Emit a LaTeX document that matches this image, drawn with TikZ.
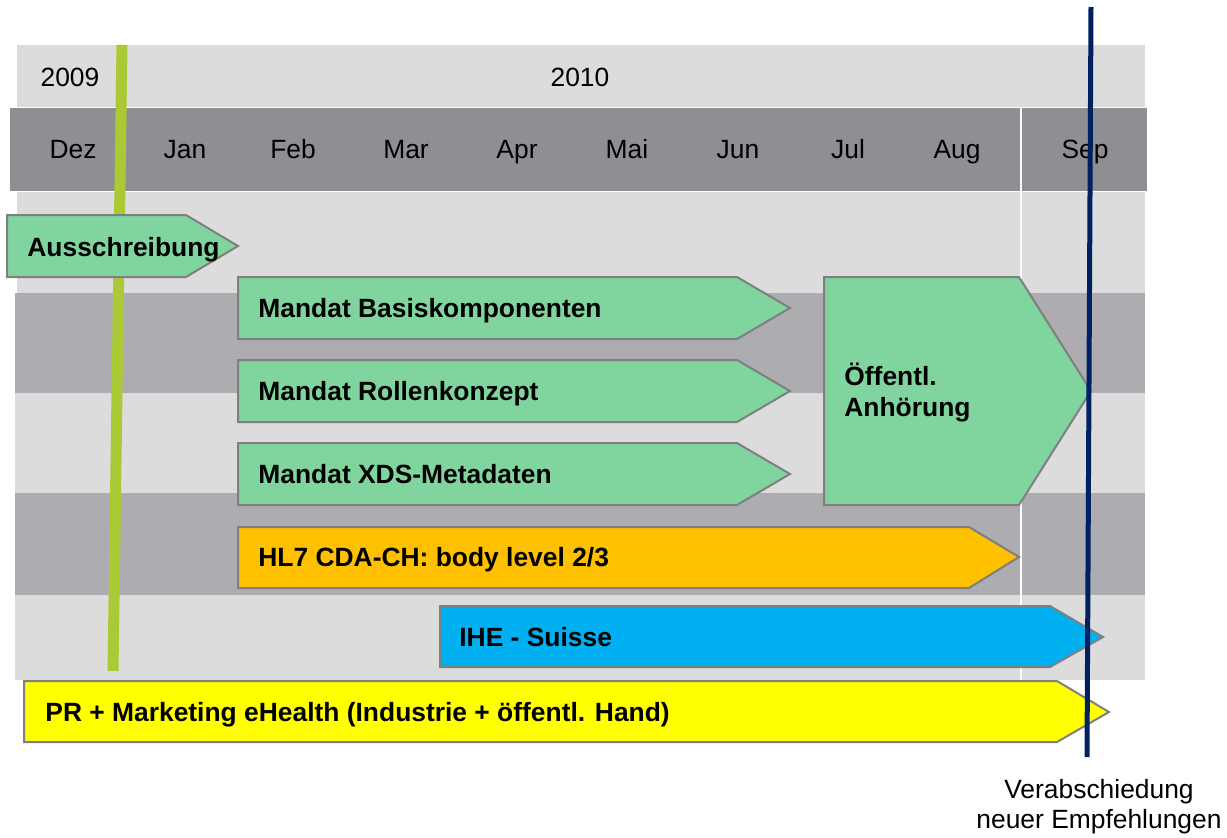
\documentclass[tikz,border=0pt]{standalone}
\usepackage{fontspec}
\setmainfont{Liberation Sans}
\definecolor{lightband}{HTML}{DCDCDC}
\definecolor{monthband}{HTML}{8F8E93}
\definecolor{darkband}{HTML}{ADADB1}
\definecolor{greenfill}{HTML}{80D59E}
\definecolor{arrgray}{HTML}{7F7F7F}
\definecolor{hlorange}{HTML}{FFC000}
\definecolor{iheblue}{HTML}{00B0F0}
\definecolor{pryellow}{HTML}{FFFF00}
\definecolor{greenline}{HTML}{A9C935}
\definecolor{navyline}{HTML}{002060}
\begin{document}
\begin{tikzpicture}[x=0.5pt,y=-0.5pt,
  lab/.style={font=\fontsize{13.2}{15}\selectfont, inner sep=0, anchor=base},
  blab/.style={font=\fontsize{13.2}{15}\selectfont\bfseries, inner sep=0, anchor=base west},
  arrbox/.style={draw=arrgray, line width=1pt, line join=miter},
]
\useasboundingbox (0,0) rectangle (1227,837);
% background bands
\fill[lightband] (17,45) rectangle (1145,107);
\fill[monthband] (10,108) rectangle (1147,191);
\fill[lightband] (17,192) rectangle (1145,293);
\fill[darkband] (15,293) rectangle (1145,393);
\fill[lightband] (15,393) rectangle (1145,493);
\fill[darkband] (15,493) rectangle (1145,595);
\fill[lightband] (15,595) rectangle (1145,680);
\draw[white, line width=1pt] (1021,108) -- (1021,680);
% year and month labels
\node[lab] (y2009) at (70,86) {2009};
\node[lab] (y2010) at (580,86) {2010};
\node[lab] (mDez) at (73,158) {Dez};
\node[lab] (mJan) at (185,158) {Jan};
\node[lab] (mFeb) at (293,158) {Feb};
\node[lab] (mMar) at (406,158) {Mar};
\node[lab] (mApr) at (517,158) {Apr};
\node[lab] (mMai) at (627,158) {Mai};
\node[lab] (mJun) at (738,158) {Jun};
\node[lab] (mJul) at (848,158) {Jul};
\node[lab] (mAug) at (957,158) {Aug};
\node[lab] (mSep) at (1085,158) {Sep};
% green milestone line
\coordinate (gtop) at (122,45);
\coordinate (gbot) at (113,671);
\draw[greenline, line width=5.5pt] (gtop) -- (gbot);
% arrows
\draw[arrbox, fill=greenfill] (7,215) -- (186,215) -- (238,246) -- (186,277) -- (7,277) -- cycle;
\node[blab] (aus) at (27,256) {Ausschreibung};
\draw[arrbox, fill=greenfill] (238,277) -- (737,277) -- (790,308) -- (737,339) -- (238,339) -- cycle;
\node[blab] (basis) at (258,317) {Mandat Basiskomponenten};
\draw[arrbox, fill=greenfill] (238,360) -- (737,360) -- (790,391) -- (737,422) -- (238,422) -- cycle;
\node[blab] (rollen) at (258,400) {Mandat Rollenkonzept};
\draw[arrbox, fill=greenfill] (238,443) -- (737,443) -- (790,474) -- (737,505) -- (238,505) -- cycle;
\node[blab] (xds) at (258,483) {Mandat XDS-Metadaten};
\draw[arrbox, fill=greenfill] (824,277) -- (1019,277) -- (1091,391) -- (1019,505) -- (824,505) -- cycle;
\node[blab] (oeff1) at (844,385) {Öffentl.};
\node[blab] (oeff2) at (844,416) {Anhörung};
\draw[arrbox, fill=hlorange] (238,527) -- (969,527) -- (1019,557) -- (969,588) -- (238,588) -- cycle;
\node[blab] (hl7) at (258,566) {HL7 CDA-CH: body level 2/3};
\draw[arrbox, fill=iheblue] (440,606) -- (1050,606) -- (1103,637) -- (1050,667) -- (440,667) -- cycle;
\node[blab] (ihe) at (459,646) {IHE - Suisse};
\draw[arrbox, fill=pryellow] (24,681) -- (1057,681) -- (1109,712) -- (1057,742) -- (24,742) -- cycle;
\node[blab] (pr) at (45,721) {PR + Marketing eHealth (Industrie + öffentl. Hand)};
% navy milestone line
\coordinate (ntop) at (1091,7);
\coordinate (nbot) at (1087,757);
\draw[navyline, line width=2.5pt] (ntop) -- (nbot);
\node[lab] (verab1) at (1099,798) {Verabschiedung};
\node[lab] (verab2) at (1099,828) {neuer Empfehlungen};
\end{tikzpicture}
\end{document}
